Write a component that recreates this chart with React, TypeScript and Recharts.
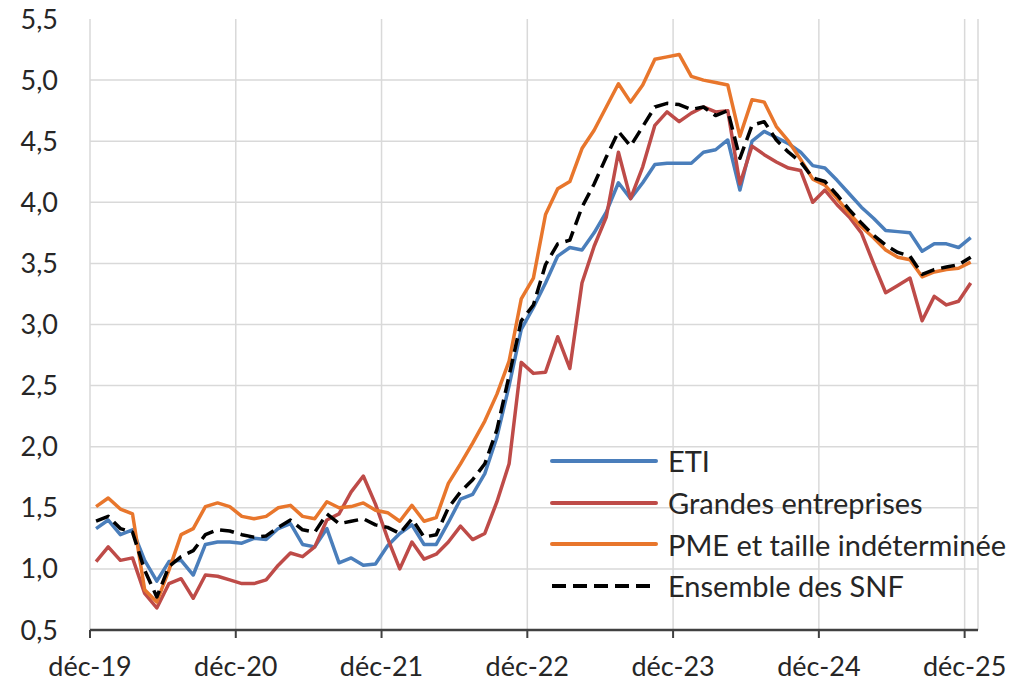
import { CartesianGrid, Line, LineChart, XAxis, YAxis } from "recharts";

// monthly, déc-19 .. déc-25 (73 points)
const eti = [
  1.33, 1.4, 1.28, 1.32, 1.07, 0.9, 1.06, 1.07, 0.95, 1.2, 1.22, 1.22,
  1.21, 1.25, 1.24, 1.33, 1.37, 1.2, 1.18, 1.33, 1.05, 1.09, 1.03, 1.04,
  1.19, 1.29, 1.36, 1.2, 1.2, 1.38, 1.57, 1.61, 1.78, 2.08, 2.5, 2.96,
  3.14, 3.34, 3.56, 3.63, 3.61, 3.75, 3.92, 4.16, 4.03, 4.16, 4.31, 4.32,
  4.32, 4.32, 4.41, 4.43, 4.51, 4.1, 4.5, 4.58, 4.53, 4.48, 4.41, 4.3,
  4.28, 4.18, 4.07, 3.96, 3.87, 3.77, 3.76, 3.75, 3.6, 3.66, 3.66, 3.63,
  3.71,
];

const grandes = [
  1.06, 1.18, 1.07, 1.09, 0.8, 0.68, 0.88, 0.92, 0.76, 0.95, 0.94, 0.91,
  0.88, 0.88, 0.91, 1.03, 1.13, 1.1, 1.18, 1.4, 1.45, 1.63, 1.76, 1.53,
  1.25, 1.0, 1.22, 1.08, 1.12, 1.22, 1.35, 1.24, 1.29, 1.55, 1.86, 2.69,
  2.6, 2.61, 2.9, 2.64, 3.34, 3.64, 3.88, 4.41, 4.03, 4.29, 4.63, 4.74,
  4.66, 4.73, 4.78, 4.74, 4.75, 4.15, 4.46, 4.39, 4.33, 4.28, 4.26, 4.0,
  4.1, 3.98, 3.88, 3.75, 3.5, 3.26, 3.32, 3.38, 3.03, 3.23, 3.16, 3.19,
  3.34,
];

const pme = [
  1.51, 1.58, 1.49, 1.45, 0.83, 0.73, 0.99, 1.28, 1.33, 1.51, 1.54, 1.51,
  1.43, 1.41, 1.43, 1.5, 1.52, 1.43, 1.41, 1.55, 1.5, 1.51, 1.54, 1.48,
  1.46, 1.39, 1.52, 1.39, 1.42, 1.7, 1.86, 2.03, 2.21, 2.43, 2.7, 3.21,
  3.38, 3.9, 4.11, 4.17, 4.44, 4.59, 4.78, 4.97, 4.82, 4.96, 5.17, 5.19,
  5.21, 5.03, 5.0, 4.98, 4.96, 4.54, 4.84, 4.82, 4.62, 4.5, 4.35, 4.19,
  4.14, 4.03, 3.91, 3.8, 3.71, 3.61, 3.55, 3.53, 3.39, 3.43, 3.45, 3.46,
  3.51,
];

const ensemble = [
  1.39, 1.43, 1.33, 1.3, 0.99, 0.77, 1.02, 1.1, 1.15, 1.28, 1.32, 1.31,
  1.28, 1.26, 1.27, 1.34, 1.4, 1.32, 1.3, 1.45, 1.37, 1.39, 1.41, 1.36,
  1.34, 1.29, 1.41, 1.26, 1.28, 1.5, 1.63, 1.73, 1.86, 2.14, 2.58, 3.03,
  3.16, 3.49, 3.66, 3.69, 3.96, 4.15, 4.37, 4.58, 4.46, 4.62, 4.78, 4.81,
  4.8, 4.76, 4.78, 4.71, 4.75, 4.36, 4.63, 4.66, 4.51, 4.41, 4.33, 4.2,
  4.17, 4.06, 3.94, 3.83, 3.73, 3.65, 3.59, 3.56, 3.41, 3.45, 3.47, 3.49,
  3.55,
];

const tickLabels = ["déc-19", "déc-20", "déc-21", "déc-22", "déc-23", "déc-24", "déc-25"];
const yTicks = [0.5, 1, 1.5, 2, 2.5, 3, 3.5, 4, 4.5, 5, 5.5];
const gridValues = [1, 1.5, 2, 2.5, 3, 3.5, 4, 4.5, 5];

const series = [
  { key: "eti", name: "ETI", color: "#4a7ebb", dash: undefined },
  { key: "grandes", name: "Grandes entreprises", color: "#be4b48", dash: undefined },
  { key: "pme", name: "PME et taille indéterminée", color: "#e8762c", dash: undefined },
  { key: "ensemble", name: "Ensemble des SNF", color: "#000000", dash: "14 7" },
];

// points are dated mid-month, ticks sit on the start of december
const data = eti.map((v, i) => ({
  x: i + 0.5,
  eti: v,
  grandes: grandes[i],
  pme: pme[i],
  ensemble: ensemble[i],
}));

const FONT = "Lato, 'Open Sans', sans-serif";

function LegendBox() {
  return (
    <div
      style={{
        position: "absolute",
        left: 550,
        top: 440,
        fontFamily: FONT,
        fontSize: 29,
        color: "#262626",
        lineHeight: 1,
      }}
    >
      {series.map((s) => (
        <div key={s.key} style={{ display: "flex", alignItems: "center", height: 41.7 }}>
          <svg width={108} height={8} style={{ marginRight: 10, flex: "none" }}>
            <line
              x1={2}
              y1={4}
              x2={106}
              y2={4}
              stroke={s.color}
              strokeWidth={4}
              strokeDasharray={s.dash}
              strokeLinecap={s.dash ? "butt" : "round"}
            />
          </svg>
          <span style={{ whiteSpace: "nowrap" }}>{s.name}</span>
        </div>
      ))}
    </div>
  );
}

export default function App() {
  return (
    <div style={{ position: "absolute", left: 0, top: 0, width: 1023, height: 685, background: "#fff" }}>
      <LineChart width={1023} height={685} data={data} margin={{ top: 19, right: 45, left: 0, bottom: 0 }}>
        <CartesianGrid stroke="#d9d9d9" strokeWidth={1.5} horizontalValues={gridValues} />
        <XAxis
          dataKey="x"
          type="number"
          domain={[0, 73.1]}
          ticks={[0, 12, 24, 36, 48, 60, 72]}
          tickFormatter={(v: number) => tickLabels[v / 12]}
          height={55}
          axisLine={{ stroke: "#404040", strokeWidth: 2.5 }}
          tickLine={{ stroke: "#404040", strokeWidth: 2 }}
          tickSize={8}
          tickMargin={19}
          tick={{ fill: "#262626", fontSize: 27, fontFamily: FONT }}
          interval={0}
        />
        <YAxis
          type="number"
          domain={[0.5, 5.5]}
          ticks={yTicks}
          tickFormatter={(v: number) => v.toFixed(1).replace(".", ",")}
          width={90}
          axisLine={false}
          tickLine={false}
          tickSize={0}
          tickMargin={32}
          tick={{ fill: "#262626", fontSize: 27, fontFamily: FONT }}
          interval={0}
        />
        {series.map((s) => (
          <Line
            key={s.key}
            dataKey={s.key}
            name={s.name}
            stroke={s.color}
            strokeWidth={3.5}
            strokeDasharray={s.dash}
            strokeLinejoin="round"
            dot={false}
            type="linear"
            isAnimationActive={false}
          />
        ))}
      </LineChart>
      <LegendBox />
    </div>
  );
}
